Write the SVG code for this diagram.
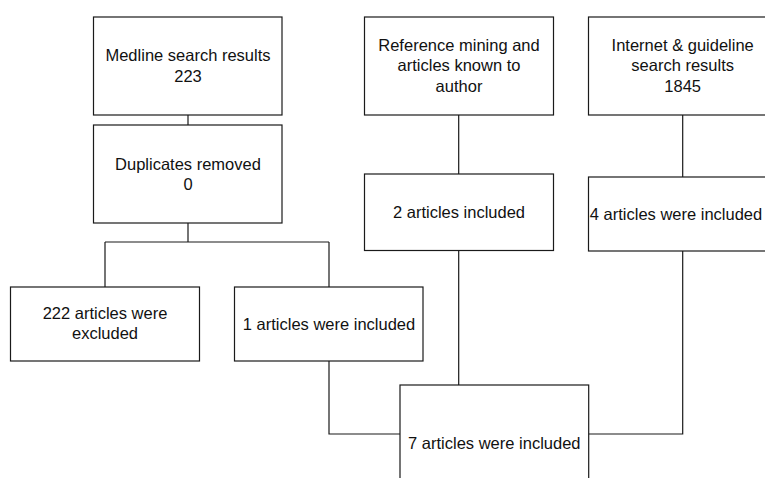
<svg xmlns="http://www.w3.org/2000/svg" width="765" height="478" viewBox="0 0 765 478">
<style>
.box{fill:#fff;stroke:#1a1a1a;stroke-width:1.2}
.c{fill:none;stroke:#1a1a1a;stroke-width:1.2}
text{font-family:"Liberation Sans",Arial,sans-serif;font-size:16.5px;fill:#111;text-anchor:middle}
</style>
<rect width="765" height="478" fill="#fff"/>
<g id="connectors">
<path class="c" d="M188 115V125"/>
<path class="c" d="M188 223V242M105 242H329M105 242V287M329 242V287"/>
<path class="c" d="M329 361V434H400"/>
<path class="c" d="M458.7 115V174M458.7 250.5V385"/>
<path class="c" d="M682.7 115V177M682.7 251V434H588.7"/>
</g>
<g id="medline"><rect class="box" x="93.5" y="17" width="188.5" height="98"/><text x="188" y="61">Medline search results</text><text x="188" y="82">223</text></g>
<g id="duplicates"><rect class="box" x="93.5" y="125" width="188.5" height="98"/><text x="188" y="169.5">Duplicates removed</text><text x="188" y="190">0</text></g>
<g id="excluded"><rect class="box" x="10.5" y="287" width="189" height="74"/><text x="105" y="318.5">222 articles were</text><text x="105" y="339">excluded</text></g>
<g id="included1"><rect class="box" x="234.5" y="287" width="188.5" height="74"/><text x="329" y="329.5">1 articles were included</text></g>
<g id="reference"><rect class="box" x="364.5" y="17" width="189" height="98"/><text x="459" y="50.5">Reference mining and</text><text x="459" y="71">articles known to</text><text x="459" y="91.5">author</text></g>
<g id="included2"><rect class="box" x="364.5" y="174" width="189" height="76.5"/><text x="459" y="218">2 articles included</text></g>
<g id="internet"><rect class="box" x="588.5" y="17" width="188.5" height="98"/><text x="682.7" y="50.5">Internet &amp; guideline</text><text x="682.7" y="71">search results</text><text x="682.7" y="91.5">1845</text></g>
<g id="included4"><rect class="box" x="588.5" y="177" width="188.5" height="74"/><text x="676" y="220">4 articles were included</text></g>
<g id="included7"><rect class="box" x="400" y="385" width="188.7" height="110"/><text x="494.3" y="449">7 articles were included</text></g>
</svg>
